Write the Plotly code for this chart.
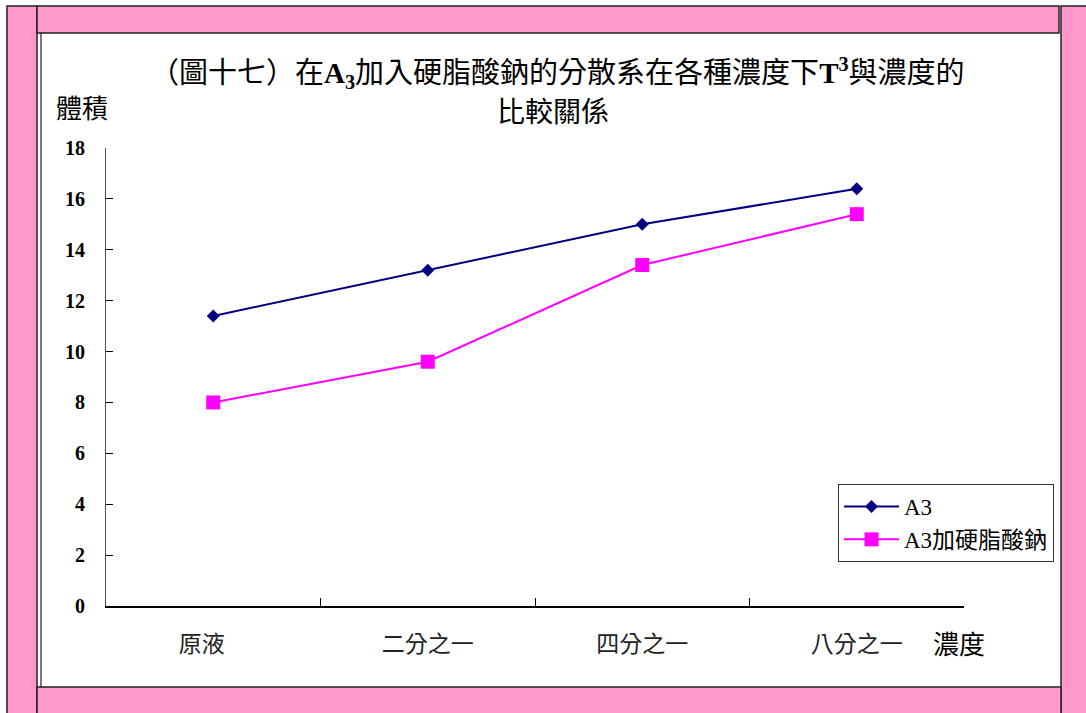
import plotly.graph_objects as go

# Data
categories = ["原液　", "二分之一", "四分之一", "八分之一"]
a3_values = [11.4, 13.2, 15.0, 16.4]
a3_stearate_values = [8.0, 9.6, 13.4, 15.4]
y_ticks = [0, 2, 4, 6, 8, 10, 12, 14, 16, 18]

series_names = ["A3", "A3加硬脂酸鈉"]

W, H = 1086, 713
L, R, T, B = 106, 122, 148, 107
PW, PH = W - L - R, H - T - B

FONT = "Liberation Serif, Noto Sans CJK TC, serif"
PINK = "#FF99CC"


def fx(px):
    return (px - L) / PW


def fy(py):
    return (H - B - py) / PH


fig = go.Figure()
fig.add_trace(go.Scatter(
    x=categories, y=a3_values, name=series_names[0], mode="lines+markers",
    line=dict(color="#000080", width=2),
    marker=dict(symbol="diamond", size=10, color="#000080"),
))
fig.add_trace(go.Scatter(
    x=categories, y=a3_stearate_values, name=series_names[1], mode="lines+markers",
    line=dict(color="#FF00FF", width=2),
    marker=dict(symbol="square", size=14, color="#FF00FF"),
))

# Decorative pink frame around the page
frame = [
    (7, 6, 37, 720),
    (37, 6, 1059, 33),
    (1061, 6, 1095, 720),
    (37, 687, 1061, 720),
]
shapes = []
for x0, y0, x1, y1 in frame:
    shapes.append(dict(type="rect", xref="paper", yref="paper",
                       x0=fx(x0), x1=fx(x1), y0=fy(y1), y1=fy(y0),
                       fillcolor=PINK, line=dict(color="#222222", width=1.5),
                       layer="below"))
shapes.append(dict(type="line", xref="paper", yref="paper",
                   x0=fx(41), x1=fx(41), y0=fy(687), y1=fy(33),
                   line=dict(color="#222222", width=1.2), layer="below"))

annotations = [
    dict(text="（圖十七）在<b>A<sub>3</sub></b>加入硬脂酸鈉的分散系在各種濃度下<b>T<sup>3</sup></b>與濃度的",
         x=fx(557), y=fy(73), xanchor="center", yanchor="middle",
         font=dict(family=FONT, size=29, color="black")),
    dict(text="比較關係", x=fx(553), y=fy(112), xanchor="center", yanchor="middle",
         font=dict(family=FONT, size=28, color="black")),
    dict(text="體積", x=fx(82), y=fy(110), xanchor="center", yanchor="middle",
         font=dict(family=FONT, size=26, color="black")),
    dict(text="濃度", x=fx(959), y=fy(645), xanchor="center", yanchor="middle",
         font=dict(family=FONT, size=26, color="black")),
]
for a in annotations:
    a.update(xref="paper", yref="paper", showarrow=False)

fig.update_layout(
    width=W, height=H, autosize=False,
    margin=dict(l=L, r=R, t=T, b=B, pad=0),
    paper_bgcolor="white", plot_bgcolor="white",
    shapes=shapes, annotations=annotations,
    showlegend=True,
    legend=dict(
        x=fx(838), y=fy(484), xanchor="left", yanchor="top",
        bordercolor="#333333", borderwidth=1, bgcolor="white",
        font=dict(family=FONT, size=23, color="black"),
        itemwidth=55, tracegroupgap=0,
    ),
    xaxis=dict(
        type="category", range=[-0.5, 3.5],
        showline=True, linecolor="black", linewidth=1.5,
        ticks="inside", ticklen=8, tickcolor="black", tickwidth=1.2,
        tickson="boundaries", showgrid=False, zeroline=False,
        tickfont=dict(family=FONT, size=23, color="#222222"),
        ticklabelstandoff=17,
    ),
    yaxis=dict(
        range=[0, 18], tickvals=y_ticks,
        showline=True, linecolor="#555555", linewidth=1.2,
        ticks="inside", ticklen=7, tickcolor="black", tickwidth=1.2,
        showgrid=False, zeroline=False,
        tickfont=dict(family="Liberation Serif", size=20, color="black", weight="bold"),
        ticklabelstandoff=16,
    ),
)

fig.write_html("out.html")
